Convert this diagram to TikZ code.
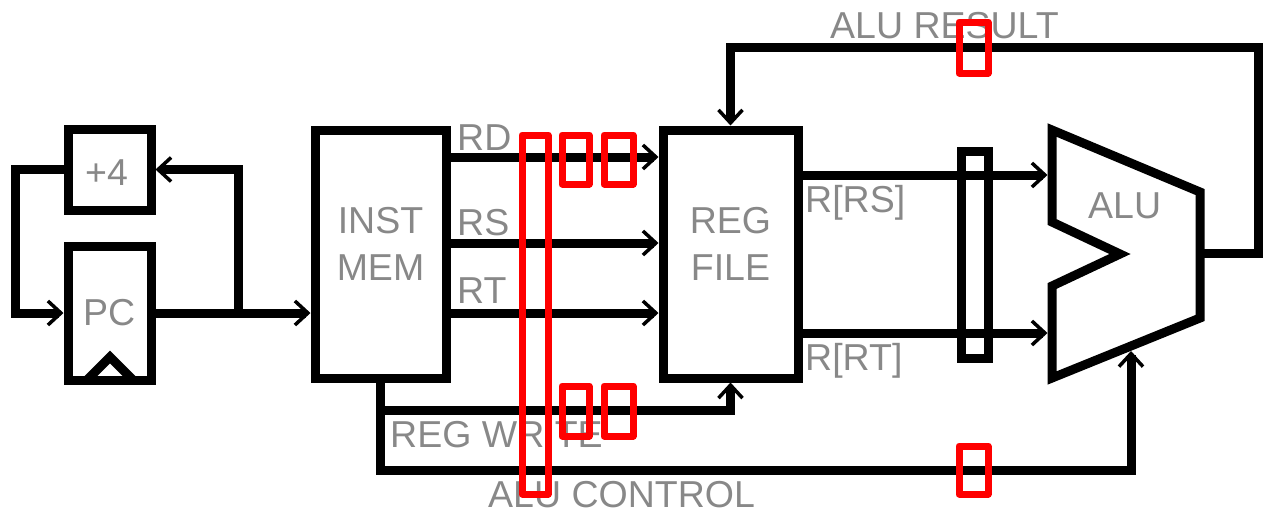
\documentclass[tikz,border=0pt]{standalone}
\usepackage{fontspec}
\setmainfont{Liberation Sans}
\usetikzlibrary{arrows.meta}
\definecolor{txtgray}{RGB}{136,136,136}
\definecolor{boxred}{RGB}{255,0,0}
\begin{document}
\begin{tikzpicture}[x=1pt,y=-1pt,
  wire/.style={line width=9pt},
  arr/.style={wire,-{Straight Barb[length=13pt,width=24pt,line width=3.5pt]}},
  blk/.style={draw,line width=9pt,inner sep=0pt},
  lbl/.style={text=txtgray,font=\fontsize{37.5}{40}\selectfont,inner sep=0pt},
  redbox/.style={draw=boxred,line width=7pt,line join=round}]
\useasboundingbox (0,0) rectangle (1266,515);

% blocks
\node[blk,minimum width=83pt,minimum height=81pt] (plus4) at (109.5,169.5) {};
\node[blk,minimum width=83pt,minimum height=134pt] (pc) at (109.5,313) {};
\node[blk,minimum width=131pt,minimum height=248pt] (inst) at (380.5,254) {};
\node[blk,minimum width=135pt,minimum height=248pt] (reg) at (730.5,254) {};
\node[blk,minimum width=27pt,minimum height=207pt] (preg) at (974.5,254.5) {};
\draw[wire] (87,380) -- (110,357) -- (133,380);
% ALU
\draw[wire] (1052,130) -- (1200,192) -- (1200,318) -- (1052,378) -- (1052,286)
  -- (1120,254) -- (1052,222) -- cycle;
\coordinate (aluin1) at (1047.5,175);
\coordinate (aluin2) at (1047.5,333);
\coordinate (aluout) at (1200,253);
\coordinate (alubot) at (1131,351);
\coordinate (aluctl) at (1131,470);
\coordinate (wrtap) at (380.5,410);
\coordinate (br) at (238,313);
\coordinate (lft) at (15,313);
\coordinate (top) at (1258,47);

% wires
\draw[arr] (plus4.west) -| (lft) -- (pc.west);
\draw[arr] (pc.east) -- (pc.east -| inst.west);
\draw[arr] (br) |- (plus4.east);
\draw[arr] (inst.east |- 0,157) -- (reg.west |- 0,157);
\draw[arr] (inst.east |- 0,243) -- (reg.west |- 0,243);
\draw[arr] (inst.east |- 0,313) -- (reg.west |- 0,313);
\draw[arr] (wrtap) -| (reg.south);
\draw[arr] (inst.south) |- (aluctl) -- (alubot);
\draw[arr] (reg.east |- aluin1) -- (aluin1);
\draw[arr] (reg.east |- aluin2) -- (aluin2);
\draw[arr] (aluout) -| (top) -| (reg.north);

% labels
\node[lbl,anchor=base west] (tpc) at (83,325) {PC};
\node[lbl,anchor=base west] (tp4) at (85,185) {+4};
\node[lbl,anchor=base] (tinst) at (380.5,233) {INST};
\node[lbl,anchor=base] (tmem) at (380.5,280) {MEM};
\node[lbl,anchor=base] (treg) at (730.5,233) {REG};
\node[lbl,anchor=base] (tfile) at (730.5,280) {FILE};
\node[lbl,anchor=base west] (trd) at (457,150) {RD};
\node[lbl,anchor=base west] (trs) at (457,235) {RS};
\node[lbl,anchor=base west] (trt) at (457,303) {RT};
\node[lbl,anchor=base west] (twr) at (390,447) {REG WRITE};
\node[lbl,anchor=base west] (tctl) at (488,507) {ALU CONTROL};
\node[lbl,anchor=base west] (tres) at (830,38) {ALU RESULT};
\node[lbl,anchor=base west] (trrs) at (805,212) {R[RS]};
\node[lbl,anchor=base west] (trrt) at (805,370) {R[RT]};
\node[lbl,anchor=base west] (talu) at (1088,218) {ALU};

% red markers
\draw[redbox] (522,135) rectangle (548,494);
\draw[redbox] (562,135) rectangle (589,184);
\draw[redbox] (604,135) rectangle (633,184);
\draw[redbox] (562,386) rectangle (589,436);
\draw[redbox] (604,386) rectangle (633,436);
\draw[redbox] (959,22) rectangle (988,73);
\draw[redbox] (959,446) rectangle (988,494);
\end{tikzpicture}
\end{document}
